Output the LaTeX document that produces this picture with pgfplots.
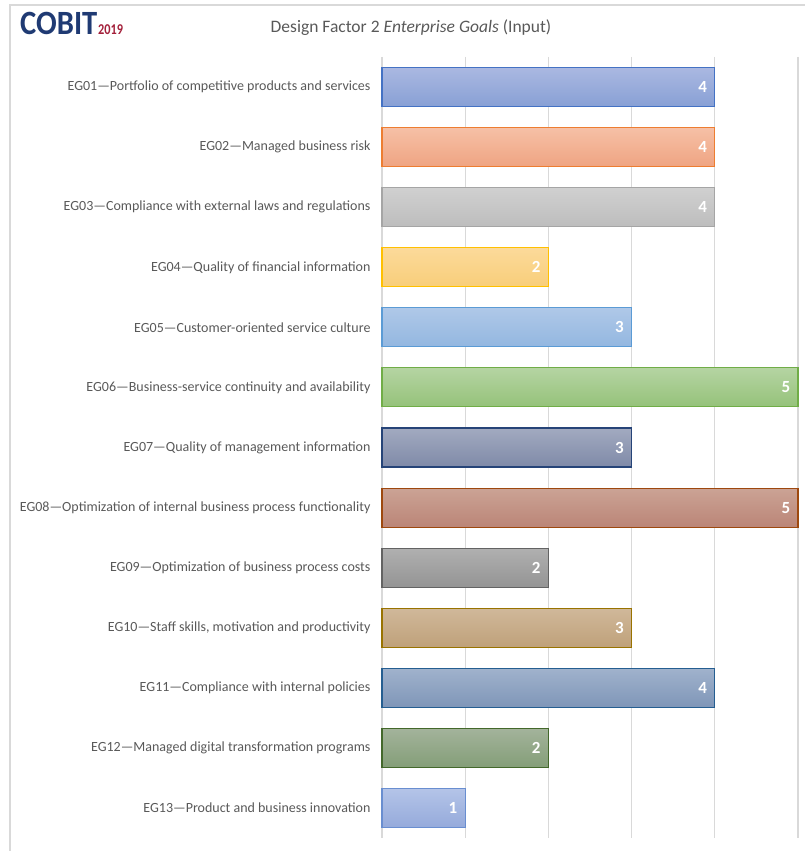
\documentclass[border=0pt]{standalone}
\usepackage{fontspec}
\setmainfont{Carlito}
\usepackage{pgfplots}
\pgfplotsset{compat=1.18}
\definecolor{txt}{HTML}{595959}
\definecolor{gridc}{HTML}{D9D9D9}
\definecolor{navy}{HTML}{1F3A73}
\definecolor{logored}{HTML}{A3203A}
\begin{document}
\begin{tikzpicture}[x=1pt,y=1pt]
\useasboundingbox (0,0) rectangle (805,851);
\draw[gridc, line width=1.6pt] (10,0) -- (10,846) -- (805,846);
\node[anchor=base west, inner sep=0pt, text=navy, font=\bfseries\fontsize{34}{34}\selectfont] (logo) at (20,816) {\scalebox{0.9}[1]{COBIT}};
\node[anchor=base west, inner sep=0pt, text=logored, font=\bfseries\fontsize{15}{15}\selectfont] at ([xshift=0.5pt]logo.base east) {\scalebox{0.82}[1]{2019}};
\node[text=txt, font=\fontsize{17.5}{19}\selectfont] at (411,823) {Design Factor 2 \textit{Enterprise Goals} (Input)};
\begin{axis}[
  at={(382pt,13pt)}, anchor=south west,
  width=416pt, height=781pt, scale only axis,
  xmin=0, xmax=5, ymin=0.5, ymax=13.5,
  y dir=reverse,
  xbar, bar width=39pt, bar shift=0pt,
  xtick={0,1,2,3,4,5}, xticklabels={},
  xmajorgrids, grid style={gridc, line width=1.3pt},
  ytick={1,...,13},
  yticklabels={
    EG01—Portfolio of competitive products and services,
    EG02—Managed business risk,
    EG03—Compliance with external laws and regulations,
    EG04—Quality of financial information,
    EG05—Customer-oriented service culture,
    EG06—Business-service continuity and availability,
    EG07—Quality of management information,
    EG08—Optimization of internal business process functionality,
    EG09—Optimization of business process costs,
    EG10—Staff skills{,} motivation and productivity,
    EG11—Compliance with internal policies,
    EG12—Managed digital transformation programs,
    EG13—Product and business innovation},
  yticklabel style={text=txt, font=\fontsize{14}{16}\selectfont, xshift=-8pt},
  major tick length=0pt,
  axis line style={draw=none},
  tick style={draw=none},
  nodes near coords={\pgfmathprintnumber[assume math mode=true]{\pgfplotspointmeta}},
  every node near coord/.style={anchor=east, xshift=-4pt, text=white, font=\bfseries\fontsize{17}{17}\selectfont},
  clip=false,
]
\addplot[draw={rgb,255:red,68;green,114;blue,196}, line width=1.1pt, top color={rgb,255:red,170;green,184;blue,225}, bottom color={rgb,255:red,136;green,160;blue,213}] coordinates {(4,1)};
\addplot[draw={rgb,255:red,237;green,125;blue,49}, line width=1.1pt, top color={rgb,255:red,246;green,192;blue,166}, bottom color={rgb,255:red,239;green,164;blue,130}] coordinates {(4,2)};
\addplot[draw={rgb,255:red,165;green,165;blue,165}, line width=1.1pt, top color={rgb,255:red,208;green,208;blue,208}, bottom color={rgb,255:red,189;green,189;blue,189}] coordinates {(4,3)};
\addplot[draw={rgb,255:red,255;green,192;blue,0}, line width=1.1pt, top color={rgb,255:red,252;green,218;blue,154}, bottom color={rgb,255:red,248;green,206;blue,122}] coordinates {(2,4)};
\addplot[draw={rgb,255:red,91;green,155;blue,213}, line width=1.1pt, top color={rgb,255:red,175;green,200;blue,232}, bottom color={rgb,255:red,147;green,183;blue,224}] coordinates {(3,5)};
\addplot[draw={rgb,255:red,112;green,173;blue,71}, line width=1.1pt, top color={rgb,255:red,181;green,212;blue,162}, bottom color={rgb,255:red,149;green,194;blue,122}] coordinates {(5,6)};
\addplot[draw={rgb,255:red,38;green,68;blue,120}, line width=1.1pt, top color={rgb,255:red,162;green,170;blue,192}, bottom color={rgb,255:red,127;green,138;blue,168}] coordinates {(3,7)};
\addplot[draw={rgb,255:red,158;green,72;blue,14}, line width=1.1pt, top color={rgb,255:red,203;green,163;blue,149}, bottom color={rgb,255:red,187;green,133;blue,119}] coordinates {(5,8)};
\addplot[draw={rgb,255:red,99;green,99;blue,99}, line width=1.1pt, top color={rgb,255:red,176;green,176;blue,176}, bottom color={rgb,255:red,148;green,148;blue,148}] coordinates {(2,9)};
\addplot[draw={rgb,255:red,153;green,115;blue,0}, line width=1.1pt, top color={rgb,255:red,208;green,184;blue,154}, bottom color={rgb,255:red,191;green,161;blue,122}] coordinates {(3,10)};
\addplot[draw={rgb,255:red,37;green,94;blue,145}, line width=1.1pt, top color={rgb,255:red,160;green,178;blue,204}, bottom color={rgb,255:red,127;green,150;blue,184}] coordinates {(4,11)};
\addplot[draw={rgb,255:red,67;green,104;blue,43}, line width=1.1pt, top color={rgb,255:red,163;green,179;blue,155}, bottom color={rgb,255:red,132;green,158;blue,120}] coordinates {(2,12)};
\addplot[draw={rgb,255:red,105;green,142;blue,208}, line width=1.1pt, top color={rgb,255:red,180;green,196;blue,232}, bottom color={rgb,255:red,149;green,170;blue,219}] coordinates {(1,13)};
\end{axis}
\end{tikzpicture}
\end{document}
